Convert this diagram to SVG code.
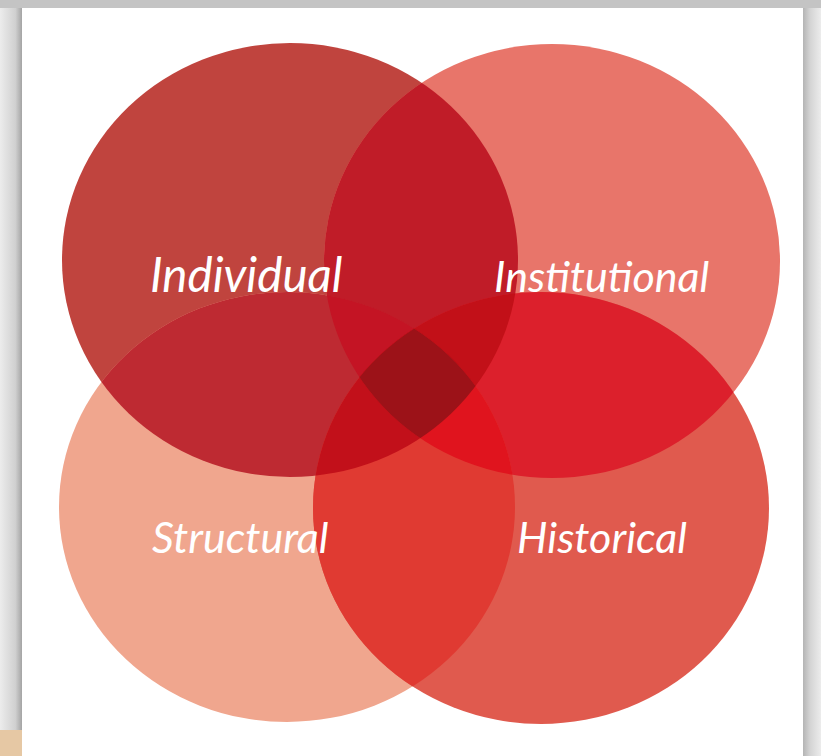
<svg xmlns="http://www.w3.org/2000/svg" width="821" height="756" viewBox="0 0 821 756">
<defs>
<linearGradient id="lg" x1="0" x2="1" y1="0" y2="0"><stop offset="0" stop-color="#ececec"/><stop offset="0.7" stop-color="#d0d0d0"/><stop offset="1" stop-color="#a4a4a4"/></linearGradient>
<linearGradient id="rg" x1="0" x2="1" y1="0" y2="0"><stop offset="0" stop-color="#b4b4b4"/><stop offset="0.4" stop-color="#d4d4d4"/><stop offset="1" stop-color="#ececec"/></linearGradient>
<clipPath id="cA"><ellipse cx="290" cy="260" rx="228" ry="217"/></clipPath>
<clipPath id="cB"><ellipse cx="552" cy="261" rx="228" ry="217"/></clipPath>
<clipPath id="cC"><ellipse cx="287" cy="507" rx="228" ry="215"/></clipPath>
<clipPath id="cD"><ellipse cx="541" cy="508" rx="228" ry="216"/></clipPath>
</defs>
<style>
.lbl{font-family:Lato,"Open Sans","Liberation Sans",sans-serif;font-style:italic;fill:#ffffff;}
</style>
<rect x="0" y="0" width="821" height="756" fill="#d8d8d8"/>
<rect x="0" y="0" width="22" height="756" fill="url(#lg)"/>
<rect x="803" y="0" width="18" height="756" fill="url(#rg)"/>
<rect x="0" y="0" width="821" height="8" fill="#c4c4c4"/>
<rect x="0" y="730" width="22" height="26" fill="#e6c8a4"/>
<rect x="22" y="8" width="781" height="748" fill="#ffffff"/>

<g id="individual"><ellipse cx="290" cy="260" rx="228" ry="217" fill="#c0443e"/></g>
<g id="institutional"><ellipse cx="552" cy="261" rx="228" ry="217" fill="#e8756a"/></g>
<g id="structural"><ellipse cx="287" cy="507" rx="228" ry="215" fill="#f0a68e"/></g>
<g id="historical"><ellipse cx="541" cy="508" rx="228" ry="216" fill="#e05a4e"/></g>

<g id="overlaps">
<g clip-path="url(#cA)"><ellipse cx="552" cy="261" rx="228" ry="217" fill="#c01c28"/></g>
<g clip-path="url(#cA)"><ellipse cx="287" cy="507" rx="228" ry="215" fill="#be2a32"/></g>
<g clip-path="url(#cB)"><ellipse cx="541" cy="508" rx="228" ry="216" fill="#dc202c"/></g>
<g clip-path="url(#cC)"><ellipse cx="541" cy="508" rx="228" ry="216" fill="#e03a32"/></g>
<g clip-path="url(#cA)"><g clip-path="url(#cB)"><ellipse cx="287" cy="507" rx="228" ry="215" fill="#c41424"/></g></g>
<g clip-path="url(#cA)"><g clip-path="url(#cB)"><ellipse cx="541" cy="508" rx="228" ry="216" fill="#c21018"/></g></g>
<g clip-path="url(#cA)"><g clip-path="url(#cC)"><ellipse cx="541" cy="508" rx="228" ry="216" fill="#c2101a"/></g></g>
<g clip-path="url(#cB)"><g clip-path="url(#cC)"><ellipse cx="541" cy="508" rx="228" ry="216" fill="#e0141e"/></g></g>
<g clip-path="url(#cA)"><g clip-path="url(#cB)"><g clip-path="url(#cC)"><ellipse cx="541" cy="508" rx="228" ry="216" fill="#9c1218"/></g></g></g>
</g>

<text class="lbl" x="150" y="292" font-size="47.5">Individual</text>
<text class="lbl" x="494" y="292" font-size="43">Institutional</text>
<text class="lbl" x="152" y="553" font-size="43">Structural</text>
<text class="lbl" x="517" y="553" font-size="43">Historical</text>
</svg>
